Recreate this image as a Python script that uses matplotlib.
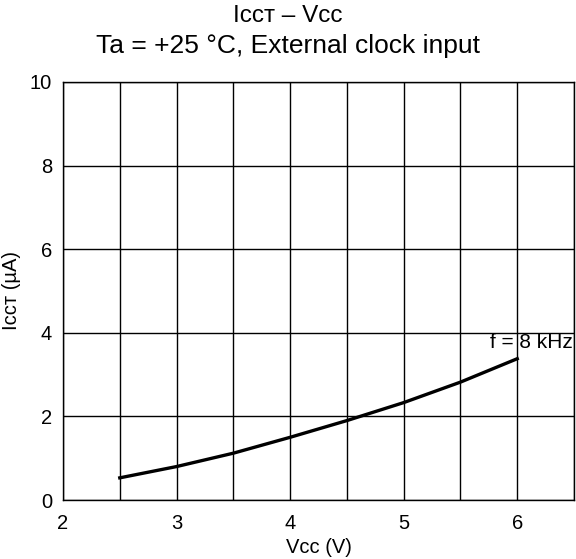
import numpy as np
import matplotlib.pyplot as plt
from matplotlib.ticker import MultipleLocator

plt.rcParams['font.family'] = ['Liberation Sans', 'DejaVu Sans']

# data
vcc = [2.5, 3.0, 3.5, 4.0, 4.5, 5.0, 5.5, 6.0]
icct = [0.53, 0.80, 1.12, 1.50, 1.90, 2.33, 2.82, 3.38]
xticks = [2, 3, 4, 5, 6]
yticks = [0, 2, 4, 6, 8, 10]

W, H = 576, 559
fig = plt.figure(figsize=(W / 100, H / 100), dpi=100)
ax = fig.add_axes([63 / W, 1 - 500 / H, 511 / W, 418 / H])

ax.plot(vcc, icct, color='black', lw=2.4, solid_joinstyle='round')
ax.text(6.49, 3.55, 'f = 8 kHz', ha='right', va='bottom', fontsize=15)

ax.set_xlim(2, 6.5)
ax.set_ylim(0, 10)
ax.set_xticks(xticks)
ax.set_yticks(yticks)
ax.xaxis.set_minor_locator(MultipleLocator(0.5))
ax.grid(True, which='both', axis='x', color='black', lw=1)
ax.grid(True, which='major', axis='y', color='black', lw=1)
ax.tick_params(which='both', length=0, labelsize=14.5)
ax.tick_params(axis='y', pad=8)
ax.tick_params(axis='x', pad=10)
for s in ax.spines.values():
    s.set_linewidth(1)

ax.set_xlabel('Vᴄᴄ (V)', fontsize=14.5, labelpad=4)
ax.set_ylabel('Iᴄᴄᴛ (µA)', fontsize=14.5, labelpad=6)

# titles are centred on the figure, not the axes
fig.text(0.5, 1 - 21.5 / H, 'Iᴄᴄᴛ – Vᴄᴄ', ha='center', va='baseline',
         fontsize=17.5)
fig.text(0.5, 1 - 53 / H, 'Ta = +25 °C, External clock input',
         ha='center', va='baseline', fontsize=19)

fig.savefig('out.png', dpi=100)
